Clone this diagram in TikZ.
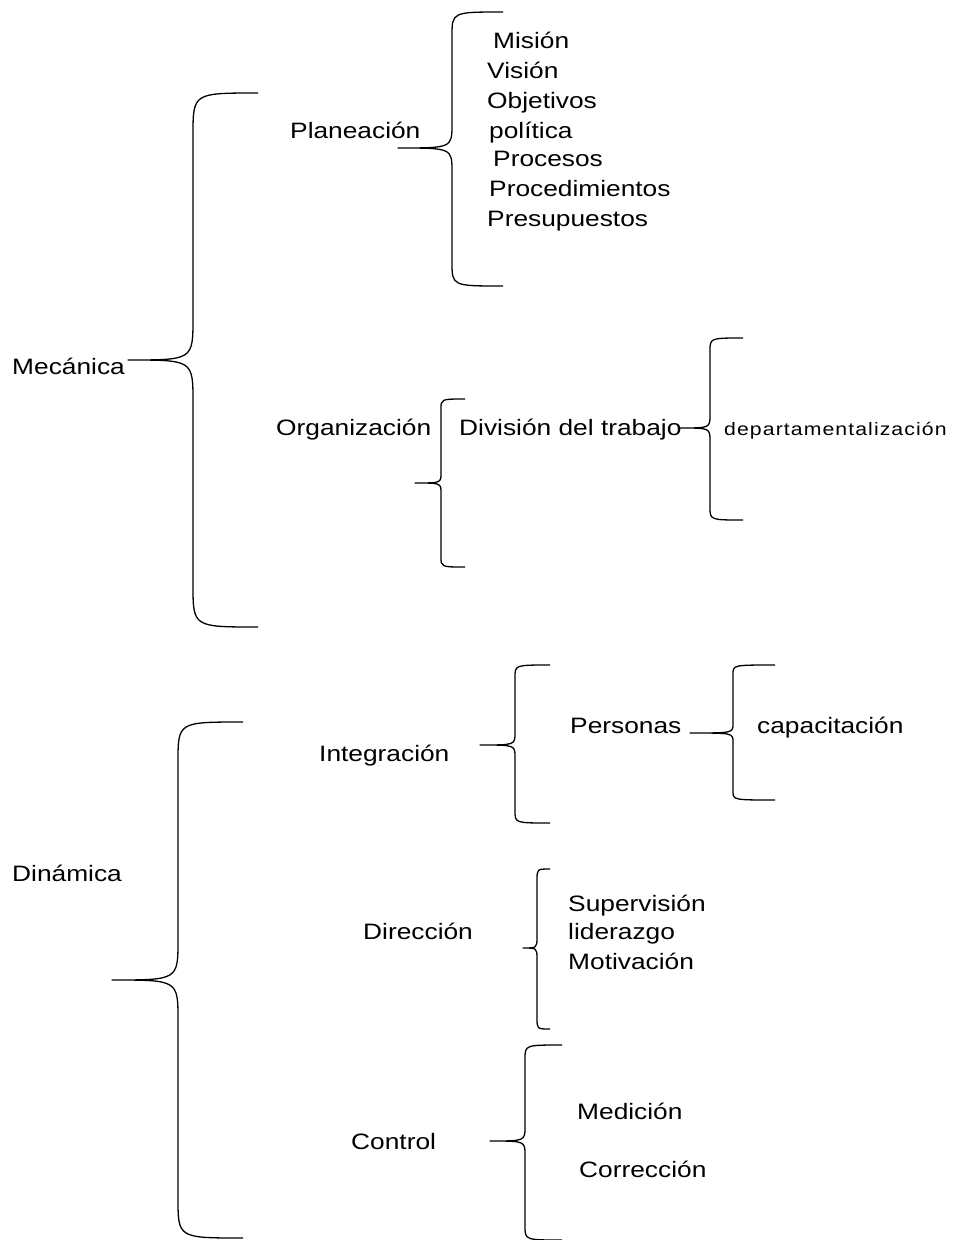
\documentclass[tikz,border=0pt]{standalone}
\usepackage{fontspec}
\setmainfont{Liberation Sans}[FakeStretch=1.18]
\newfontfamily\espaciada{Liberation Sans}[FakeStretch=1.18, LetterSpace=6]
\usepackage{tikz}
\usetikzlibrary{positioning}
\tikzset{
  txt/.style={anchor=base west, inner sep=0pt, font=\fontsize{22.3}{26}\selectfont},
  txtsm/.style={anchor=base west, inner sep=0pt, font=\espaciada\fontsize{18}{22}\selectfont},
  llave/.style={line width=1.3pt, line join=round},
}
% #1 nombre, #2,#3 punta, #4 lomo x, #5 arriba, #6 abajo, #7 extremo x, #8 curva
\newcommand{\llave}[8]{%
  \coordinate (#1) at (#2,#3);
  \draw[llave] (#7,#5) .. controls (#4,#5) .. (#4,{#5+#8})
    -- (#4,{#3-#8}) .. controls (#4,#3) .. (#1)
    .. controls (#4,#3) .. (#4,{#3+#8})
    -- (#4,{#6-#8}) .. controls (#4,#6) .. (#7,#6);
}

\begin{document}
\begin{tikzpicture}[x=1pt, y=-1pt]
    \useasboundingbox (0,0) rectangle (955,1240);
    % mecanica
    \node[txt] (mecanica)   at (12,374)  {Mecánica};
    \node[txt] (planeacion) at (290,138) {Planeación};
    \node[txt] (mision)     at (493,48)  {Misión};
    \node[txt] (vision)     at (487,78)  {Visión};
    \node[txt] (objetivos)  at (487,108) {Objetivos};
    \node[txt] (politica)   at (489,138) {política};
    \node[txt] (procesos)   at (493,166) {Procesos};
    \node[txt] (procedim)   at (489,196) {Procedimientos};
    \node[txt] (presup)     at (487,226) {Presupuestos};
    \node[txt] (organiz)    at (276,435) {Organización};
    \node[txt] (division)   at (459,435) {División del trabajo};
    \node[txtsm] (depto)    at (724,435) {departamentalización};
    \llave{tmec}{128}{360}{193}{93}{627}{258}{42}
    \llave{tplan}{398}{148}{452}{12}{286}{503}{24}
    \llave{torg}{415}{483}{441}{399}{567}{465}{10}
    \llave{tdiv}{680}{428}{710}{338}{520}{743}{13}
    % dinamica
    \node[txt] (dinamica)   at (12,881)  {Dinámica};
    \node[txt] (integrac)   at (319,761) {Integración};
    \node[txt] (personas)   at (570,733) {Personas};
    \node[txt] (capacit)    at (757,733) {capacitación};
    \node[txt] (direccion)  at (363,939) {Dirección};
    \node[txt] (superv)     at (568,911) {Supervisión};
    \node[txt] (liderazgo)  at (568,939) {liderazgo};
    \node[txt] (motivac)    at (568,969) {Motivación};
    \node[txt] (control)    at (351,1149) {Control};
    \node[txt] (medicion)   at (577,1119) {Medición};
    \node[txt] (correccion) at (579,1177) {Corrección};
    \llave{tint}{480}{745}{515}{665}{823}{550}{12}
    \llave{tper}{690}{733}{733}{665}{800}{775}{9}
    \llave{tdir}{523}{948}{537}{869}{1029}{550}{11}
    \llave{tcon}{490}{1141}{525}{1045}{1240}{562}{14}
    \llave{tdin}{112}{980}{178}{722}{1238}{243}{40}
\end{tikzpicture}
\end{document}
